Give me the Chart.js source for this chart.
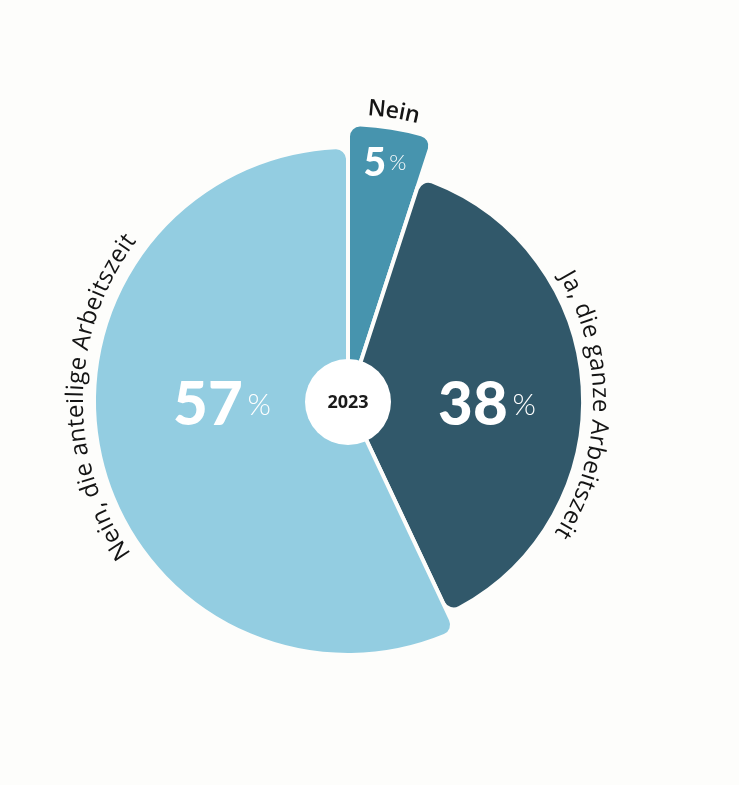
<!DOCTYPE html>
<html lang="de">
<head>
    <meta charset="UTF-8">
    <title>Arbeitszeit 2023</title>
    <style>
        body {
            margin: 0;
            padding: 0;
            background-color: #fdfdfb;
        }

        #chart {
            display: block;
        }
    </style>
</head>
<body>
    <canvas id="chart" width="739" height="785"></canvas>

    <script src="https://cdn.jsdelivr.net/npm/chart.js"></script>
    <script>
        // data
        const categories = ['Nein', 'Ja, die ganze Arbeitszeit', 'Nein, die anteilige Arbeitszeit'];
        const values = [5, 38, 57];
        const centerLabel = '2023';

        // styling per slice
        const sliceColors = ['#4794ae', '#31586a', '#93cde1'];
        const radiusScale = [1.01, 0.858, 0.927];
        const labelAngles = [9, 91, 271];          // degrees, clockwise from top
        const labelRadii = [293, 252, 272];
        const labelFonts = ['600 23px "Open Sans"', '500 24px "Open Sans"', '500 24px "Open Sans"'];
        const labelTracking = [0, 0.6, 0.6];
        const valueOffsets = [[37, -225], [139, 24], [-126, 24]]; // from centre to value baseline
        const valueSizes = [[39, 22], [60, 30], [60, 30]];

        const bg = '#fdfdfb';

        function drawArcText(ctx, text, cx, cy, r, midDeg, track) {
            const chars = [...text];
            const widths = chars.map(c => ctx.measureText(c).width + track);
            const total = widths.reduce((a, b) => a + b, 0) - track;
            let a = midDeg * Math.PI / 180 - total / (2 * r);
            ctx.textAlign = 'center';
            ctx.textBaseline = 'middle';
            chars.forEach((ch, i) => {
                const ac = a + (widths[i] - track) / (2 * r);
                ctx.save();
                ctx.translate(cx + r * Math.sin(ac), cy - r * Math.cos(ac));
                ctx.rotate(ac);
                ctx.fillText(ch, 0, 0);
                ctx.restore();
                a += widths[i] / r;
            });
        }

        const shapePlugin = {
            id: 'shape',
            afterDatasetsUpdate(chart) {
                const meta = chart.getDatasetMeta(0);
                const R = meta.controller.outerRadius;
                meta.data.forEach((arc, i) => {
                    arc.outerRadius = R * radiusScale[i];
                });
            },
            afterDatasetsDraw(chart) {
                const ctx = chart.ctx;
                const arc0 = chart.getDatasetMeta(0).data[0];
                const cx = arc0.x, cy = arc0.y;

                ctx.save();
                // centre disc
                ctx.beginPath();
                ctx.arc(cx, cy + 1, 43, 0, Math.PI * 2);
                ctx.fillStyle = '#ffffff';
                ctx.fill();
                ctx.fillStyle = '#1a1a1a';
                ctx.font = '700 18px "Open Sans"';
                ctx.textAlign = 'center';
                ctx.textBaseline = 'middle';
                ctx.fillText(centerLabel, cx, cy + 2);

                // curved category labels
                ctx.fillStyle = '#141414';
                categories.forEach((c, i) => {
                    ctx.font = labelFonts[i];
                    drawArcText(ctx, c, cx, cy, labelRadii[i], labelAngles[i], labelTracking[i]);
                });

                // values
                ctx.fillStyle = '#ffffff';
                ctx.textBaseline = 'alphabetic';
                ctx.textAlign = 'left';
                values.forEach((v, i) => {
                    const [big, small] = valueSizes[i];
                    const num = String(v);
                    ctx.font = '900 ' + big + 'px Lato';
                    const wNum = ctx.measureText(num).width;
                    ctx.font = '300 ' + small + 'px Lato';
                    const wPct = ctx.measureText('%').width;
                    const gap = big * 0.08;
                    const x0 = cx + valueOffsets[i][0] - (wNum + gap + wPct) / 2;
                    const y0 = cy + valueOffsets[i][1];
                    ctx.font = '900 ' + big + 'px Lato';
                    ctx.fillText(num, x0, y0);
                    ctx.font = '300 ' + small + 'px Lato';
                    ctx.fillText('%', x0 + wNum + gap, y0 - big * 0.16);
                });
                ctx.restore();
            }
        };

        new Chart(document.getElementById('chart'), {
            type: 'pie',
            data: {
                labels: categories,
                datasets: [{
                    data: values,
                    backgroundColor: sliceColors,
                    borderColor: bg,
                    borderWidth: 4,
                    borderRadius: 12
                }]
            },
            options: {
                responsive: false,
                animation: false,
                layout: { padding: { left: 72, right: 115, top: 125, bottom: 108 } },
                plugins: {
                    legend: { display: false },
                    tooltip: { enabled: false }
                }
            },
            plugins: [shapePlugin]
        });
    </script>
</body>
</html>
